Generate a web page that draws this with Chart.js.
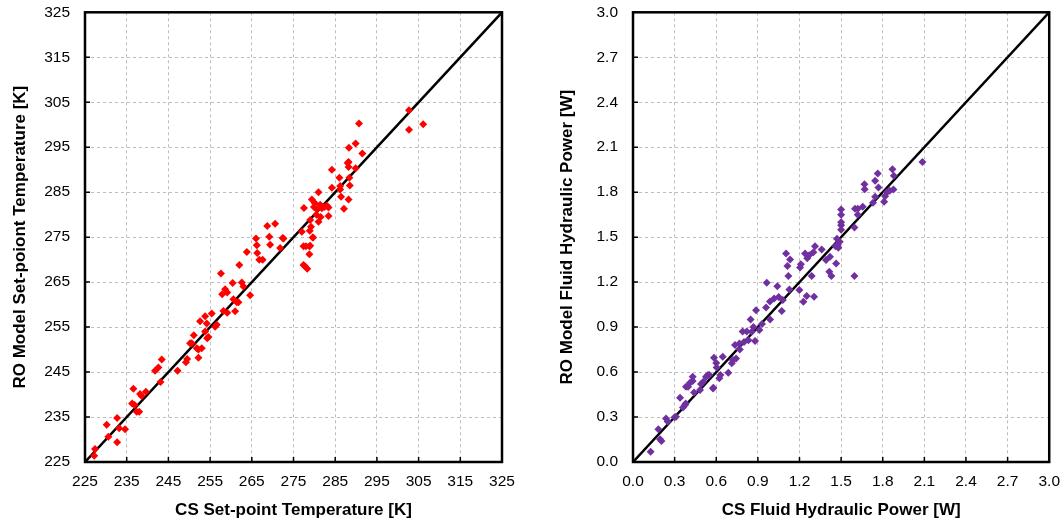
<!DOCTYPE html>
<html>
<head>
<meta charset="utf-8">
<script src="https://cdn.jsdelivr.net/npm/chart.js@4.4.1/dist/chart.umd.min.js"></script>
<style>
	body { margin: 0; background: #fff; overflow: hidden; }
	#wrap { position: relative; width: 1064px; height: 525px; overflow: hidden; }
	.box { position: absolute; top: -12px; height: 537px; }
</style>
</head>
<body>
<div id="wrap">
	<div class="box" style="left:0; width:532px"><canvas id="tempChart"></canvas></div>
	<div class="box" style="left:532px; width:538px"><canvas id="powerChart"></canvas></div>
</div>
<script>
// Set-point temperature [K]
const tempCS = [227.4, 227.2, 230.2, 230.6, 232.7, 232.7, 233.2, 234.6, 236.6, 236.3, 236.9, 237.4, 238.0, 238.2, 238.6, 239.6,
	241.8, 242.6, 243.4, 243.1, 247.2, 249.2, 249.5, 250.2, 251.1, 250.6, 251.8, 252.2, 252.6, 252.2, 253.0, 253.8, 254.2,
	253.8, 254.6, 254.3, 255.4, 256.2, 256.6, 257.6, 257.9, 258.2, 258.6, 259.1, 259.1, 260.4, 260.6, 261.0, 261.4, 261.8,
	262.0, 262.6, 263.0, 263.8, 264.6, 266.0, 266.2, 266.3, 266.8, 267.6, 269.2, 269.4, 271.8, 272.6, 268.7, 270.6, 272.4,
	277.0, 277.4, 278.0, 277.4, 278.3, 277.8, 278.8, 278.8, 279.7, 278.9, 279.6, 279.0, 277.5, 279.0, 279.2, 279.4, 279.9,
	280.1, 280.6, 281.0, 281.0, 281.4, 281.8, 282.4, 283.0, 283.4, 283.4, 280.5, 281.5, 284.2, 284.2, 286.0, 286.2, 286.2,
	286.4, 287.1, 288.0, 288.2, 288.2, 288.3, 288.4, 288.5, 289.9, 289.9, 290.7, 291.5, 288.2, 302.7, 302.7, 306.1];
const tempRO = [227.9, 226.4, 233.3, 230.6, 234.8, 229.4, 232.5, 232.3, 241.3, 238.0, 237.7, 236.2, 236.2, 240.1, 239.7, 240.6,
	245.3, 246.0, 247.8, 242.8, 245.3, 247.2, 247.9, 251.4, 253.2, 251.4, 250.3, 248.2, 256.3, 250.0, 250.3, 257.4, 255.8,
	254.0, 252.8, 252.5, 258.0, 255.1, 255.5, 266.9, 262.3, 258.6, 263.4, 262.7, 258.2, 264.8, 261.2, 258.5, 260.5, 260.5,
	268.8, 264.9, 264.0, 271.7, 262.1, 274.7, 273.2, 271.5, 270.0, 270.0, 275.1, 273.3, 272.6, 274.7, 277.5, 278.0, 274.8,
	276.2, 273.0, 273.0, 268.8, 268.0, 268.5, 273.0, 271.2, 274.9, 276.4, 274.9, 273.1, 281.5, 278.8, 277.3, 283.4, 281.7,
	282.6, 281.2, 285.0, 278.4, 282.2, 281.4, 281.7, 282.0, 279.7, 281.6, 280.0, 279.5, 290.0, 286.0, 288.2, 286.4, 285.6,
	284.0, 281.3, 291.5, 290.6, 283.4, 294.9, 288.2, 286.5, 295.8, 290.3, 300.3, 293.6, 291.7, 303.2, 298.9, 300.1];

// Fluid hydraulic power [W]
const powerCS = [0.127, 0.183, 0.195, 0.205, 0.238, 0.25, 0.31, 0.30, 0.339, 0.36, 0.375, 0.38, 0.382, 0.397, 0.411, 0.43,
	0.43, 0.44, 0.483, 0.49, 0.507, 0.526, 0.54, 0.55, 0.577, 0.584, 0.579, 0.60, 0.603, 0.622, 0.63, 0.647, 0.687, 0.712,
	0.72, 0.735, 0.743, 0.767, 0.77, 0.80, 0.79, 0.82, 0.832, 0.848, 0.856, 0.868, 0.88, 0.887, 0.911, 0.93, 0.964, 0.959,
	0.987, 0.988, 1.017, 1.04, 1.05, 1.072, 1.08, 1.103, 1.113, 1.12, 1.127, 1.132, 1.204, 1.199, 1.21, 1.228, 1.24, 1.252,
	1.256, 1.27, 1.288, 1.305, 1.312, 1.30, 1.36, 1.391, 1.415, 1.43, 1.42, 1.464, 1.476, 1.49, 1.46, 1.48, 1.47, 1.50,
	1.50, 1.50, 1.50, 1.50, 1.596, 1.596, 1.60, 1.62, 1.62, 1.656, 1.668, 1.67, 1.73, 1.745, 1.745, 1.764, 1.769, 1.81,
	1.817, 1.83, 1.85, 1.87, 1.877, 1.88, 2.086];
const powerRO = [0.069, 0.218, 0.151, 0.14, 0.291, 0.27, 0.302, 0.298, 0.429, 0.364, 0.38, 0.39, 0.502, 0.502, 0.529, 0.569,
	0.54, 0.464, 0.48, 0.52, 0.536, 0.569, 0.58, 0.58, 0.491, 0.696, 0.496, 0.66, 0.631, 0.558, 0.58, 0.702, 0.596, 0.658,
	0.68, 0.78, 0.691, 0.791, 0.75, 0.80, 0.87, 0.87, 0.813, 0.951, 0.869, 0.9, 0.807, 1.013, 0.88, 0.92, 1.196, 1.031,
	1.07, 0.951, 1.091, 1.173, 1.1, 1.007, 1.08, 1.391, 1.307, 1.24, 1.151, 1.351, 1.298, 1.147, 1.32, 1.069, 1.391, 1.107,
	1.36, 1.38, 1.24, 1.102, 1.44, 1.4, 1.418, 1.347, 1.269, 1.24, 1.37, 1.324, 1.447, 1.47, 1.44, 1.43, 1.49, 1.55,
	1.58, 1.6, 1.65, 1.684, 1.24, 1.564, 1.69, 1.69, 1.65, 1.702, 1.853, 1.82, 1.73, 1.876, 1.769, 1.924, 1.831, 1.736,
	1.773, 1.8, 1.81, 1.953, 1.818, 1.91, 2.002];

const tempTicks = [225, 235, 245, 255, 265, 275, 285, 295, 305, 315, 325];
const powerTicks = [0.0, 0.3, 0.6, 0.9, 1.2, 1.5, 1.8, 2.1, 2.4, 2.7, 3.0];

// marco negro del area y pequeñas marcas hacia dentro
const frame = {
	id: "frame",
	afterDatasetsDraw(chart) {
		const { ctx, chartArea: a, scales } = chart;
		ctx.save();
		ctx.strokeStyle = "#000";
		ctx.lineWidth = 1.5;
		ctx.beginPath();
		scales.x.ticks.forEach(t => {
			const px = scales.x.getPixelForValue(t.value);
			ctx.moveTo(px, a.bottom);
			ctx.lineTo(px, a.bottom - 5);
		});
		scales.y.ticks.forEach(t => {
			const py = scales.y.getPixelForValue(t.value);
			ctx.moveTo(a.left, py);
			ctx.lineTo(a.left + 5, py);
		});
		ctx.stroke();
		ctx.lineWidth = 2.5;
		ctx.strokeRect(a.left, a.top, a.right - a.left, a.bottom - a.top);
		ctx.restore();
	}
};

function makeChart(id, xs, ys, ticks, color, xTitle, yTitle, yWidth, padRight, titlePad, fmt) {
	const pts = xs.map((x, i) => ({ x: x, y: ys[i] }));
	const lo = ticks[0], hi = ticks[ticks.length - 1];
	const axis = (title, isY) => ({
		type: "linear",
		min: lo,
		max: hi,
		afterBuildTicks: s => { s.ticks = ticks.map(v => ({ value: v })); },
		afterFit: s => { if (isY) s.width = yWidth; else s.height = 63; },
		grid: { color: "#bdbdbd", borderDash: [3, 3], drawTicks: false, lineWidth: 1 },
		border: { display: false, dash: [3, 3] },
		ticks: {
			color: "#000",
			padding: isY ? 15 : 10,
			font: { family: "Liberation Sans, Arial", size: 15.5 },
			callback: v => fmt(v)
		},
		title: {
			display: true,
			text: title,
			color: "#000",
			padding: isY ? { top: titlePad, bottom: 0 } : { top: 0, bottom: 4 },
			font: { family: "Liberation Sans, Arial", size: 17, weight: "bold" }
		}
	});
	return new Chart(document.getElementById(id), {
		type: "scatter",
		data: {
			datasets: [
				{
					data: pts,
					pointStyle: "rectRot",
					pointRadius: 4,
					backgroundColor: color,
					borderColor: color,
					borderWidth: 0
				},
				{
					type: "line",
					data: [{ x: lo, y: lo }, { x: hi, y: hi }],
					borderColor: "#000",
					borderWidth: 2.5,
					pointRadius: 0
				}
			]
		},
		options: {
			responsive: true,
			maintainAspectRatio: false,
			animation: false,
			layout: { padding: { top: 2, right: padRight, left: 0, bottom: 0 } },
			plugins: { legend: { display: false }, tooltip: { enabled: false } },
			scales: { x: axis(xTitle, false), y: axis(yTitle, true) }
		},
		plugins: [frame]
	});
}

makeChart("tempChart", tempCS, tempRO, tempTicks, "#ff0000",
	"CS Set-point Temperature [K]", "RO Model Set-poiont Temperature [K]", 85, 30, 10, v => String(v));
makeChart("powerChart", powerCS, powerRO, powerTicks, "#7030a0",
	"CS Fluid Hydraulic Power [W]", "RO Model Fluid Hydraulic Power [W]", 101, 9, 25, v => v.toFixed(1));
</script>
</body>
</html>
